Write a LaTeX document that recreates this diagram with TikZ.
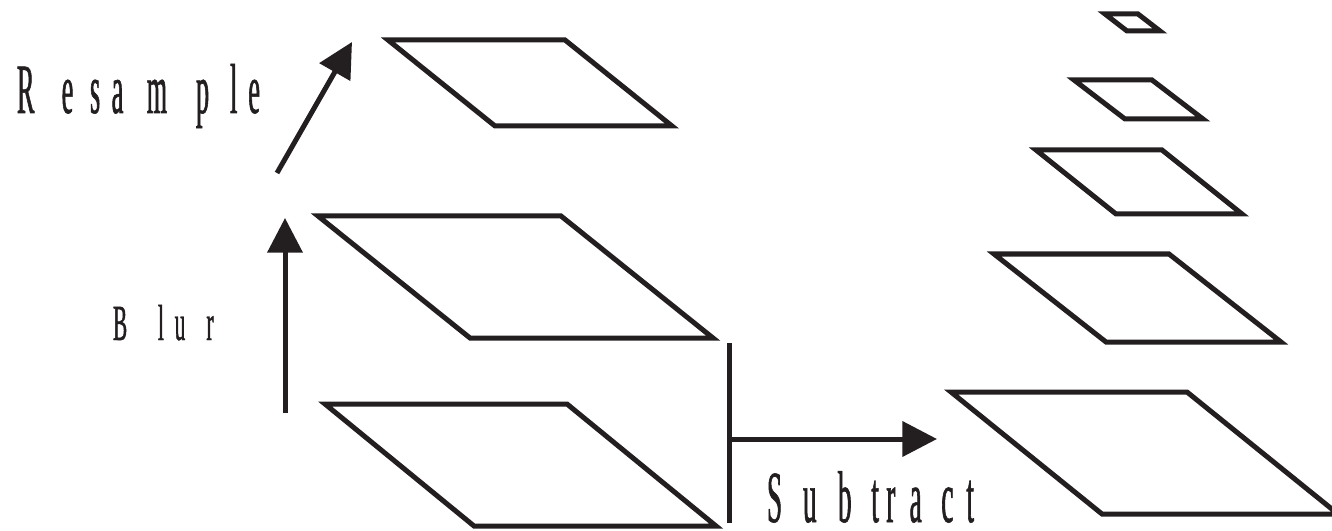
\documentclass[tikz,border=0pt]{standalone}
\usepackage{fontspec}
\setmainfont{Liberation Serif}
\newfontfamily\condR[FakeStretch=0.37,FakeBold=0.8]{Liberation Serif}
\newfontfamily\condB[FakeStretch=0.42,FakeBold=0.8]{Liberation Serif}
\usetikzlibrary{arrows.meta}
\definecolor{ink}{RGB}{35,31,32}
\newdimen\pxu \pxu=0.75pt
\newcommand\lbx[2]{\makebox[#1\pxu][l]{#2}}
\begin{document}
\begin{tikzpicture}[x=0.75pt,y=-0.75pt,
  plate/.style={draw=ink,line width=3.75pt},
  bar/.style={draw=ink,line width=3.75pt},
  arr/.style={draw=ink,line width=3.75pt,-{Triangle[length=26pt,width=26pt]}},
  lbl/.style={anchor=base west,inner sep=0pt,outer sep=0pt,text=ink}]
\useasboundingbox (0,0) rectangle (1332,531);
\clip (0,0) rectangle (1332,531);

% left column of planes
\draw[plate] (388,40) -- (565,40) -- (672,126) -- (495,126) -- cycle;
\draw[plate] (318,216) -- (561,216) -- (713,338) -- (470,338) -- cycle;
\draw[plate] (325,404) -- (567,404) -- (716,526) -- (474,526) -- cycle;

% right pyramid of planes
\draw[plate] (951,392) -- (1187,392) -- (1338,514) -- (1102,514) -- cycle;
\draw[plate] (994,254) -- (1169,254) -- (1281,342) -- (1106,342) -- cycle;
\draw[plate] (1036,150) -- (1162,150) -- (1242,214) -- (1116,214) -- cycle;
\draw[plate] (1074,80) -- (1152,80) -- (1203,119) -- (1125,119) -- cycle;
\draw[plate] (1105,14) -- (1138,14) -- (1160,31) -- (1127,31) -- cycle;

% connector end points
\coordinate (rsA) at (277,173);
\coordinate (rsB) at (352,42);
\coordinate (blA) at (285,413);
\coordinate (blB) at (285,218);
\coordinate (barTop) at (729,343);
\coordinate (barBot) at (729,523);
\coordinate (subA) at (729,439);
\coordinate (subB) at (937,439);

\draw[arr] (rsA) -- (rsB);
\draw[arr] (blA) -- (blB);
\draw[bar] (barTop) -- (barBot);
\draw[arr] (subA) -- (subB);

% labels
\node[lbl,font=\condR\fontsize{53}{60}\selectfont] (resample) at (17,113)
  {\spaceskip=0.01pt\relax\lbx{44.7}{R} \lbx{28.3}{e} \lbx{21.7}{s} \lbx{35}{a} \lbx{49.3}{m} \lbx{34}{p} \lbx{18.3}{l}e};
\node[lbl,font=\condB\fontsize{38}{45}\selectfont] (blur) at (113,340)
  {\spaceskip=0.01pt\relax\lbx{45}{B} \lbx{16.7}{l}\lbx{31.7}{u} r};
\node[lbl,font=\condR\fontsize{55}{62}\selectfont] (subtract) at (767,522)
  {\spaceskip=0.01pt\relax\lbx{36}{S} \lbx{35}{u} \lbx{33.3}{b} \lbx{15}{t} \lbx{23.3}{r} \lbx{31.7}{a} \lbx{25}{c} t};
\end{tikzpicture}
\end{document}
